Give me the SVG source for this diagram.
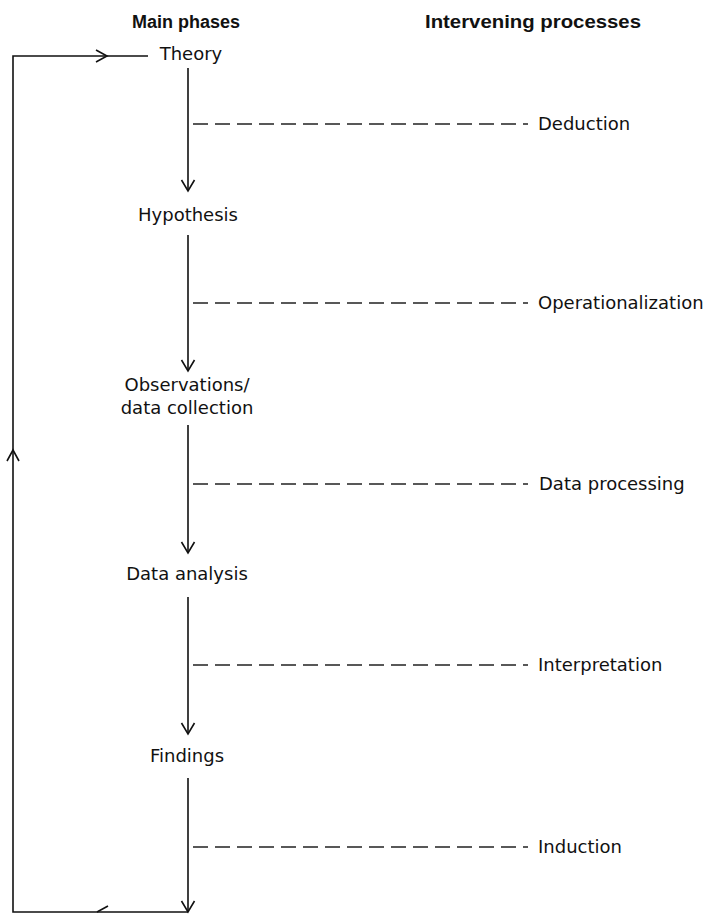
<svg xmlns="http://www.w3.org/2000/svg" width="704" height="914" viewBox="0 0 704 914">
<style>
.h{font-family:"Liberation Sans",Arial,sans-serif;font-weight:bold;font-size:18px;fill:#111}
.t{font-family:"DejaVu Sans","Liberation Sans",sans-serif;font-size:18px;fill:#111}
.m{text-anchor:middle}
.ln{stroke:#111;stroke-width:1.6;fill:none}
.ah{stroke:#111;stroke-width:1.6;fill:none;stroke-linejoin:miter}
.d{stroke:#222;stroke-width:1.3;fill:none;stroke-dasharray:15 7}
</style>
<rect width="704" height="914" fill="#fff"/>
<g id="headers">
<text class="h m" x="186" y="28" textLength="108" lengthAdjust="spacingAndGlyphs">Main phases</text>
<text class="h" x="425" y="28" textLength="216" lengthAdjust="spacingAndGlyphs">Intervening processes</text>
</g>
<g id="theory"><text class="t m" x="191" y="60">Theory</text></g>
<g id="hypothesis"><text class="t m" x="188" y="221">Hypothesis</text></g>
<g id="observations"><text class="t m" x="187" y="391">Observations/</text><text class="t m" x="187" y="414">data collection</text></g>
<g id="analysis"><text class="t m" x="187" y="580">Data analysis</text></g>
<g id="findings"><text class="t m" x="187" y="762">Findings</text></g>
<g id="deduction"><text class="t" x="538" y="130">Deduction</text></g>
<g id="operationalization"><text class="t" x="538" y="309">Operationalization</text></g>
<g id="dataprocessing"><text class="t" x="539" y="490">Data processing</text></g>
<g id="interpretation"><text class="t" x="538" y="671">Interpretation</text></g>
<g id="induction"><text class="t" x="538" y="853">Induction</text></g>
<g id="connectors">
<path class="ln" d="M188 68 V190 M188 235 V370 M188 425 V552 M188 597 V733 M188 778 V912"/>
<path class="ah" d="M181.5 180 L188 191 L194.5 180 M181.5 360 L188 371 L194.5 360 M181.5 542 L188 553 L194.5 542 M181.5 723 L188 734 L194.5 723 M181.5 901 L188 912 L194.5 901"/>
<path class="ln" d="M188 912 H13 V56 H148"/>
<path class="ah" d="M96 50 L107 56 L96 62 M7 461 L13 450 L19 461 M108 906 L97 912"/>
<path class="d" d="M193 124 H528 M193 303 H528 M193 484 H528 M193 665 H528 M193 847 H528"/>
</g>
</svg>
